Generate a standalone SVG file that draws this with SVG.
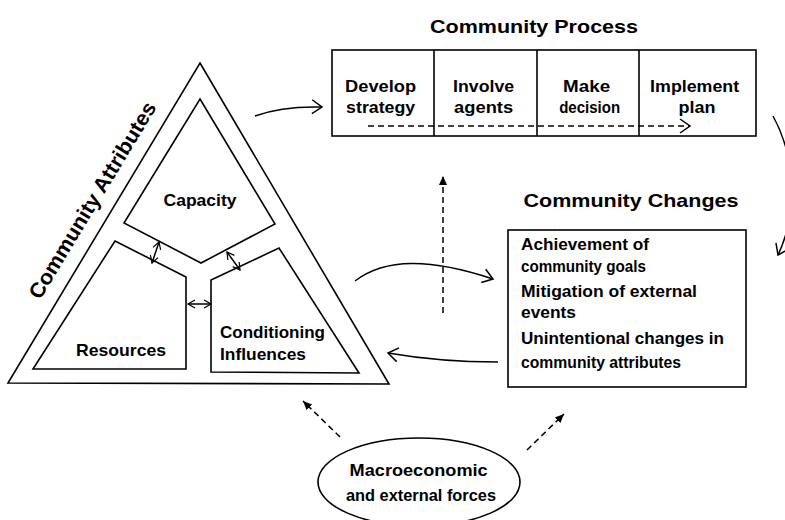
<svg xmlns="http://www.w3.org/2000/svg" width="785" height="520" viewBox="0 0 785 520">
<style>
.s{fill:none;stroke:#000;stroke-width:1.6}
.t{font-family:"Liberation Sans",Arial,sans-serif;font-weight:bold;fill:#000}
.c{stroke:#000;stroke-width:1.5;fill:none}
.d{stroke:#000;stroke-width:1.5;fill:none;stroke-dasharray:6,4}
</style>
<defs>
<marker id="open" markerUnits="userSpaceOnUse" markerWidth="14" markerHeight="16" refX="11" refY="8" orient="auto-start-reverse">
<path d="M1,1 L11,8 L1,15" fill="none" stroke="#000" stroke-width="1.5"/>
</marker>
<marker id="small" markerUnits="userSpaceOnUse" markerWidth="10" markerHeight="10" refX="8" refY="5" orient="auto-start-reverse">
<path d="M1,1 L8,5 L1,9" fill="none" stroke="#000" stroke-width="1.2"/>
</marker>
<marker id="fill" markerUnits="userSpaceOnUse" markerWidth="10" markerHeight="10" refX="9" refY="5" orient="auto">
<path d="M0,1 L9,5 L0,9 Z" fill="#000"/>
</marker>
</defs>

<g id="community-attributes">
<polygon class="s" points="200,63 389,384 8,383"/>
<text class="t" font-size="21" text-anchor="middle" dominant-baseline="central" transform="translate(92,200) rotate(-58.8)" textLength="226" lengthAdjust="spacingAndGlyphs">Community Attributes</text>
</g>
<g id="capacity">
<polygon class="s" points="200,99 275,224 201,263 124,223"/>
<text class="t" font-size="17" x="200" y="206" text-anchor="middle" textLength="73" lengthAdjust="spacingAndGlyphs">Capacity</text>
</g>
<g id="resources">
<polygon class="s" points="115,241 186,277 186,369 33,369"/>
<text class="t" font-size="17" x="121" y="356" text-anchor="middle" textLength="90" lengthAdjust="spacingAndGlyphs">Resources</text>
</g>
<g id="conditioning">
<polygon class="s" points="211,280 279,248 359,373 211,372"/>
<text class="t" font-size="17" x="220" y="338" textLength="105" lengthAdjust="spacingAndGlyphs">Conditioning</text>
<text class="t" font-size="17" x="220" y="360" textLength="86" lengthAdjust="spacingAndGlyphs">Influences</text>
</g>

<g id="community-process">
<text class="t" font-size="19" x="534" y="33" text-anchor="middle" textLength="208" lengthAdjust="spacingAndGlyphs">Community Process</text>
<rect class="s" x="332" y="50" width="424" height="86"/>
<line class="s" x1="434" y1="50" x2="434" y2="136"/>
<line class="s" x1="537" y1="50" x2="537" y2="136"/>
<line class="s" x1="639" y1="50" x2="639" y2="136"/>
<text class="t" font-size="17" text-anchor="middle">
<tspan x="383" y="92" textLength="71" lengthAdjust="spacingAndGlyphs">Develop</tspan>
<tspan x="383" y="113" textLength="69" lengthAdjust="spacingAndGlyphs">strategy</tspan>
<tspan x="486" y="92" textLength="61" lengthAdjust="spacingAndGlyphs">Involve</tspan>
<tspan x="486" y="113" textLength="59" lengthAdjust="spacingAndGlyphs">agents</tspan>
<tspan x="589" y="92" textLength="47" lengthAdjust="spacingAndGlyphs">Make</tspan>
<tspan x="592" y="113" textLength="61" lengthAdjust="spacingAndGlyphs">decision</tspan>
<tspan x="697" y="92" textLength="89" lengthAdjust="spacingAndGlyphs">Implement</tspan>
<tspan x="697" y="113" textLength="37" lengthAdjust="spacingAndGlyphs">plan</tspan>
</text>
</g>

<g id="community-changes">
<text class="t" font-size="19" x="631" y="207" text-anchor="middle" textLength="215" lengthAdjust="spacingAndGlyphs">Community Changes</text>
<rect class="s" x="508" y="230" width="238" height="157"/>
<text class="t" font-size="17">
<tspan x="521" y="250" textLength="128" lengthAdjust="spacingAndGlyphs">Achievement of</tspan>
<tspan x="521" y="272" textLength="125" lengthAdjust="spacingAndGlyphs">community goals</tspan>
<tspan x="521" y="297" textLength="176" lengthAdjust="spacingAndGlyphs">Mitigation of external</tspan>
<tspan x="521" y="318" textLength="55" lengthAdjust="spacingAndGlyphs">events</tspan>
<tspan x="521" y="344" textLength="203" lengthAdjust="spacingAndGlyphs">Unintentional changes in</tspan>
<tspan x="521" y="368" textLength="160" lengthAdjust="spacingAndGlyphs">community attributes</tspan>
</text>
</g>

<g id="macroeconomic">
<ellipse class="s" cx="419" cy="482" rx="101" ry="44"/>
<text class="t" font-size="17" text-anchor="middle">
<tspan x="421" y="476" textLength="138" lengthAdjust="spacingAndGlyphs">Macroeconomic</tspan>
<tspan x="421" y="501" textLength="150" lengthAdjust="spacingAndGlyphs">and external forces</tspan>
</text>
</g>

<g id="connectors">
<path class="c" d="M255,116 Q282,106 322,107" marker-end="url(#open)"/>
<path class="c" d="M773,116 C797,160 797,215 778,255" marker-end="url(#open)"/>
<path class="c" d="M355,281 C385,258 430,258 493,279" marker-end="url(#open)"/>
<path class="c" d="M498,362 Q440,362 388,353" marker-end="url(#open)"/>
<line class="d" x1="368" y1="126" x2="690" y2="126" marker-end="url(#open)"/>
<line class="d" x1="443" y1="313" x2="443" y2="176" marker-end="url(#fill)"/>
<line class="d" x1="340" y1="437" x2="303" y2="401" marker-end="url(#fill)"/>
<line class="d" x1="527" y1="450" x2="564" y2="414" marker-end="url(#fill)"/>
<line class="c" x1="152" y1="263" x2="159" y2="242" marker-start="url(#small)" marker-end="url(#small)"/>
<line class="c" x1="227" y1="252" x2="240" y2="270" marker-start="url(#small)" marker-end="url(#small)"/>
<line class="c" x1="188" y1="304" x2="211" y2="304" marker-start="url(#small)" marker-end="url(#small)"/>
</g>
</svg>
